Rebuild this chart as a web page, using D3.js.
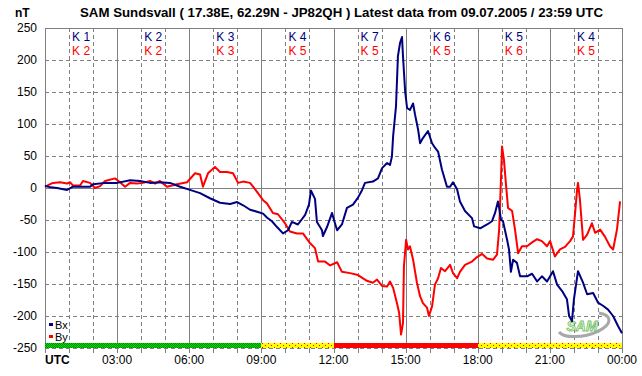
<!DOCTYPE html>
<html>
<head>
<meta charset="utf-8">
<script src="https://cdn.jsdelivr.net/npm/d3@7"></script>
<style>
  body { margin: 0; background: #fff; }
  svg { display: block; font-family: "Liberation Sans", Arial, sans-serif; }
</style>
</head>
<body>
<svg id="chart"></svg>
<script>
// [hour UTC, nT]
const bx = [
  [0, 3], [0.25, 1], [0.5, 0], [0.92, -3], [1.16, 2], [1.87, 2], [2.0, 6], [2.5, 8], [3.0, 8],
  [3.54, 12], [3.95, 11], [4.37, 8], [4.78, 9], [5.2, 8], [5.62, 2], [6.03, -3], [6.45, -8],
  [6.86, -16], [7.28, -23], [7.7, -25], [7.99, -22], [8.24, -27], [8.53, -34], [8.82, -37],
  [9.07, -40], [9.23, -46], [9.44, -52], [9.65, -61], [9.9, -71], [10.11, -66], [10.27, -53],
  [10.52, -57], [10.82, -42], [10.98, -26], [11.06, -4], [11.23, -17], [11.31, -53], [11.44, -61],
  [11.52, -66], [11.56, -75], [11.73, -61], [11.94, -39], [12.02, -50], [12.15, -66], [12.35, -57],
  [12.56, -31], [12.81, -26], [13.02, -15], [13.19, -3], [13.31, 8], [13.64, 10], [13.85, 15],
  [14.02, 31], [14.23, 39], [14.35, 36], [14.43, 49], [14.48, 81], [14.6, 128], [14.68, 206],
  [14.77, 227], [14.85, 236], [14.89, 206], [14.98, 151], [15.06, 125], [15.18, 122], [15.31, 132],
  [15.39, 115], [15.52, 91], [15.6, 70], [15.72, 78], [15.93, 89], [16.1, 70], [16.22, 63],
  [16.35, 57], [16.51, 29], [16.72, 2], [16.85, 2], [16.97, 9], [17.14, -2], [17.26, -21],
  [17.47, -36], [17.76, -47], [17.85, -60], [18.1, -63], [18.39, -57], [18.59, -52], [18.72, -39],
  [18.84, -21], [18.89, -31], [18.97, -50], [19.05, -52], [19.22, -81], [19.3, -96], [19.38, -131],
  [19.47, -112], [19.63, -117], [19.76, -138], [20.05, -138], [20.26, -134], [20.47, -146],
  [20.67, -138], [20.88, -146], [21.01, -138], [21.13, -130], [21.3, -151], [21.51, -161],
  [21.71, -174], [21.8, -200], [21.92, -208], [22.0, -174], [22.17, -130], [22.38, -148],
  [22.55, -166], [22.8, -164], [23.0, -179], [23.21, -184], [23.42, -190], [23.63, -200],
  [23.84, -216], [24.0, -227]
];

const by = [
  [0, 2], [0.33, 8], [0.62, 9], [0.92, 7], [1.04, 9], [1.16, 4], [1.46, 4], [1.58, 11], [1.87, 8],
  [2.08, 0], [2.29, 3], [2.5, 11], [2.91, 15], [3.12, 9], [3.33, 2], [3.54, 8], [3.83, 7], [4.08, 8],
  [4.37, 11], [4.58, 7], [4.78, 11], [5.07, 2], [5.49, 6], [5.91, 9], [6.24, 23], [6.45, 21],
  [6.57, 2], [6.78, 23], [7.07, 33], [7.28, 25], [7.57, 25], [7.82, 23], [8.03, 8], [8.24, 10],
  [8.53, 8], [8.82, -6], [9.07, -19], [9.23, -24], [9.48, -39], [9.69, -41], [9.98, -55],
  [10.19, -68], [10.48, -71], [10.73, -71], [11.02, -86], [11.23, -94], [11.36, -115], [11.65, -115],
  [11.86, -121], [12.15, -116], [12.35, -131], [12.69, -133], [13.02, -136], [13.39, -145],
  [13.64, -148], [13.81, -143], [14.02, -153], [14.23, -154], [14.35, -146], [14.48, -156],
  [14.64, -180], [14.73, -195], [14.81, -229], [14.89, -211], [14.93, -122], [15.02, -81],
  [15.1, -96], [15.18, -91], [15.31, -112], [15.47, -148], [15.6, -169], [15.72, -180],
  [15.89, -187], [15.97, -200], [16.1, -185], [16.22, -151], [16.35, -141], [16.47, -125],
  [16.64, -130], [16.85, -120], [16.97, -133], [17.14, -141], [17.26, -131], [17.47, -120],
  [17.76, -115], [17.97, -108], [18.18, -103], [18.39, -110], [18.64, -112], [18.8, -104],
  [18.89, -65], [18.97, 18], [19.01, 65], [19.09, 44], [19.18, 3], [19.26, -31], [19.43, -36],
  [19.55, -65], [19.68, -102], [19.84, -91], [20.05, -91], [20.26, -85], [20.47, -80], [20.67, -83],
  [20.88, -91], [21.01, -83], [21.21, -107], [21.42, -96], [21.63, -92], [21.84, -83], [21.96, -76],
  [22.05, -39], [22.13, -3], [22.17, 8], [22.25, -18], [22.38, -81], [22.55, -73], [22.75, -55],
  [22.88, -70], [23.09, -65], [23.29, -76], [23.5, -91], [23.63, -96], [23.79, -65], [23.92, -21]
];

const kBx = [1, 2, 3, 4, 7, 6, 5, 4];
const kBy = [2, 2, 3, 5, 5, 5, 6, 5];
const timeLabels = ["UTC", "03:00", "06:00", "09:00", "12:00", "15:00", "18:00", "21:00", "00:00"];
const yTicks = [250, 200, 150, 100, 50, 0, -50, -100, -150, -200, -250];
// status bar: [from hour, to hour, kind]
const statusBar = [[0, 9, "green"], [9, 12, "yellow"], [12, 18, "red"], [18, 24, "yellow"]];

const W = 642, H = 376;
const svg = d3.select("#chart").attr("width", W).attr("height", H);

const x = d3.scaleLinear().domain([0, 24]).range([45, 622]);
const y = d3.scaleLinear().domain([-250, 250]).range([348, 28]);

const defs = svg.append("defs");
const pg = defs.append("pattern").attr("id", "pGreen").attr("width", 2).attr("height", 2)
  .attr("patternUnits", "userSpaceOnUse");
pg.append("rect").attr("width", 2).attr("height", 2).attr("fill", "#00e000");
pg.append("rect").attr("width", 1).attr("height", 1).attr("fill", "#008800");
pg.append("rect").attr("x", 1).attr("y", 1).attr("width", 1).attr("height", 1).attr("fill", "#008800");
const py = defs.append("pattern").attr("id", "pYellow").attr("width", 6).attr("height", 4)
  .attr("patternUnits", "userSpaceOnUse");
py.append("rect").attr("width", 6).attr("height", 4).attr("fill", "#ffff00");
py.append("rect").attr("x", 1).attr("y", 1).attr("width", 1).attr("height", 1).attr("fill", "#ff0000");
py.append("rect").attr("x", 4).attr("y", 3).attr("width", 1).attr("height", 1).attr("fill", "#ff0000");

const gridCol = "#808080";
const grid = svg.append("g").attr("shape-rendering", "crispEdges");

// horizontal grid
yTicks.forEach(v => {
  const solid = v === 0 || v === 250;
  grid.append("line")
    .attr("x1", x(0)).attr("x2", x(24))
    .attr("y1", Math.round(y(v)) + 0.5).attr("y2", Math.round(y(v)) + 0.5)
    .attr("stroke", gridCol).attr("stroke-width", 1)
    .attr("stroke-dasharray", solid ? null : "4,3");
});
// vertical grid + ticks
d3.range(0, 25).forEach(h => {
  const solid = h % 3 === 0;
  grid.append("line")
    .attr("x1", Math.round(x(h)) + 0.5).attr("x2", Math.round(x(h)) + 0.5)
    .attr("y1", y(250)).attr("y2", y(-250))
    .attr("stroke", gridCol).attr("stroke-width", 1)
    .attr("stroke-dasharray", solid ? null : "4,3");
  grid.append("line")
    .attr("x1", Math.round(x(h)) + 0.5).attr("x2", Math.round(x(h)) + 0.5)
    .attr("y1", y(-250)).attr("y2", y(-250) + 5)
    .attr("stroke", gridCol);
});

// y labels
svg.append("g").selectAll("text").data(yTicks).join("text")
  .attr("x", 37).attr("y", d => y(d) + 4)
  .attr("text-anchor", "end")
  .style("font-size", "12px")
  .text(d => d);

svg.append("text").attr("x", 15).attr("y", 17)
  .style("font-size", "12px").style("font-weight", "bold").text("nT");

svg.append("text").attr("x", 80).attr("y", 17)
  .attr("textLength", 523).attr("lengthAdjust", "spacingAndGlyphs")
  .style("font-size", "13px").style("font-weight", "bold")
  .text("SAM Sundsvall ( 17.38E, 62.29N - JP82QH ) Latest data from 09.07.2005 / 23:59 UTC");

// x labels
svg.append("g").selectAll("text").data(timeLabels).join("text")
  .attr("x", (d, i) => i === 0 ? x(0) : x(i * 3))
  .attr("y", 364)
  .attr("text-anchor", (d, i) => i === 0 ? "start" : "middle")
  .style("font-size", "12px")
  .style("font-weight", (d, i) => i === 0 ? "bold" : "normal")
  .text(d => d);

// K indices
const kg = svg.append("g").style("font-size", "12px").attr("text-anchor", "middle");
kBx.forEach((k, i) => {
  kg.append("text").attr("x", x(i * 3 + 1.5)).attr("y", 41).attr("fill", "#000080").text("K " + k);
  kg.append("text").attr("x", x(i * 3 + 1.5)).attr("y", 55).attr("fill", "#ff0000").text("K " + kBy[i]);
});

// status bar
svg.append("g").selectAll("rect").data(statusBar).join("rect")
  .attr("x", d => x(d[0])).attr("width", d => x(d[1]) - x(d[0]))
  .attr("y", 343).attr("height", 5)
  .attr("fill", d => d[2] === "green" ? "url(#pGreen)" : d[2] === "yellow" ? "url(#pYellow)" : "#ff0000")
  .attr("shape-rendering", "crispEdges");

// logo
const logo = svg.append("g").attr("transform", "translate(585,326)");
logo.append("path")
  .attr("d", "M -26 6 A 26 11 -12 1 0 14 -13")
  .attr("fill", "none").attr("stroke", "#a8a8a8").attr("stroke-width", 3);
logo.append("text").attr("x", -3).attr("y", 5).attr("text-anchor", "middle")
  .style("font-size", "14px").style("font-style", "italic").style("font-weight", "bold")
  .attr("fill", "#eef8e8").attr("stroke", "#6cbf5c").attr("stroke-width", 0.8)
  .text("SAM");

// lines
const line = d3.line().x(d => x(d[0])).y(d => y(d[1]));
svg.append("path").datum(by).attr("d", line).attr("fill", "none")
  .attr("stroke", "#ff0000").attr("stroke-width", 2).attr("stroke-linejoin", "round");
svg.append("path").datum(bx).attr("d", line).attr("fill", "none")
  .attr("stroke", "#000080").attr("stroke-width", 2).attr("stroke-linejoin", "round");

// legend
const leg = [["Bx", "#000080"], ["By", "#ff0000"]];
leg.forEach(([name, c], i) => {
  svg.append("rect").attr("x", 49).attr("y", 323 + i * 12).attr("width", 4).attr("height", 3).attr("fill", c);
  svg.append("text").attr("x", 55).attr("y", 329 + i * 12).style("font-size", "11px").text(name);
});
</script>
</body>
</html>
